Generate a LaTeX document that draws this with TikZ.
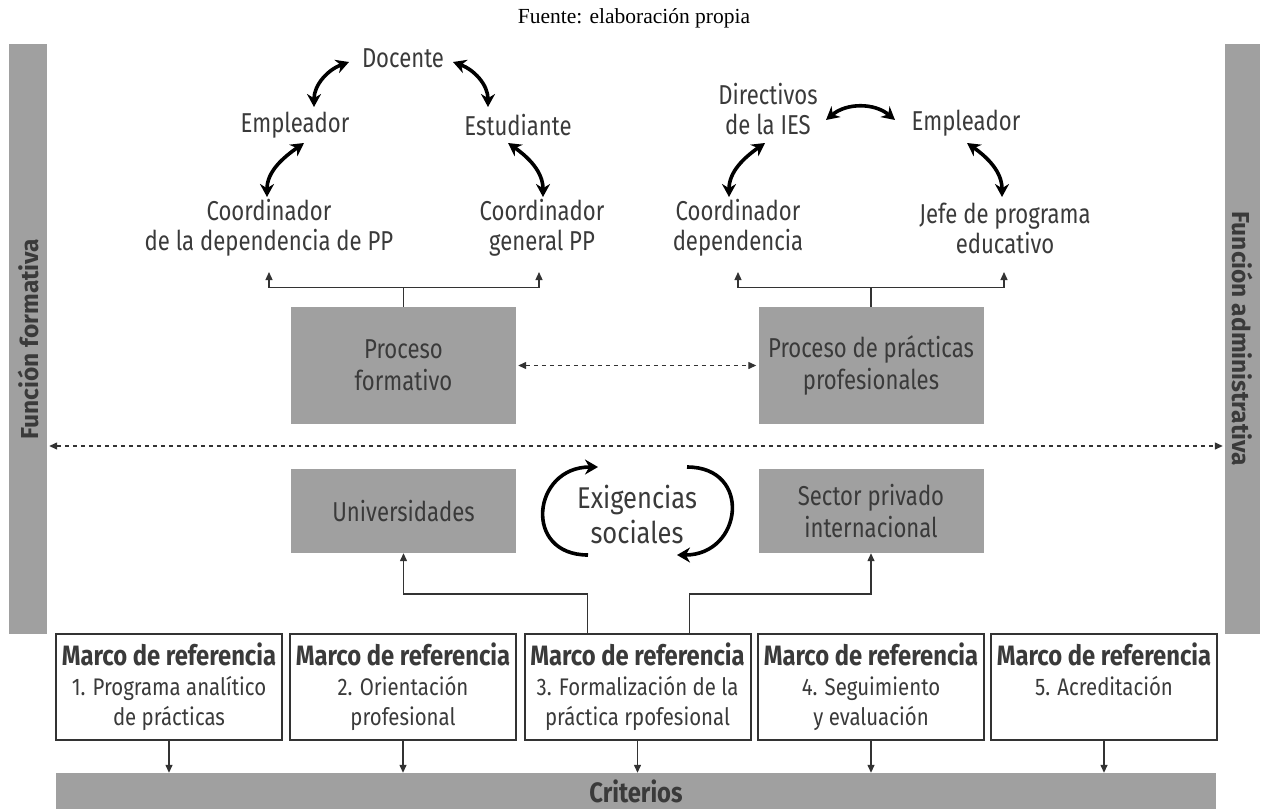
\documentclass[tikz,border=0pt]{standalone}
\usepackage{fontspec}
\usepackage{xcolor}
\usepackage{tikz}
\usetikzlibrary{calc,arrows.meta}
\setmainfont{Fira Sans}
\newfontfamily\condFont{Fira Sans}[FakeStretch=0.85]
\newfontfamily\narrowFont{Fira Sans}[FakeStretch=0.81]
\newfontfamily\serifFont{Liberation Serif}
\definecolor{boxGray}{HTML}{A0A0A0}
\definecolor{ink}{HTML}{3A3A3A}
\definecolor{wire}{HTML}{333333}
\newcommand{\refTitle}{{\bfseries\fontsize{28}{30}\selectfont Marco de referencia}}
\tikzset{
  roleLabel/.style={text=ink, align=center, inner sep=0pt, font=\narrowFont\fontsize{27.3}{30}\selectfont},
  grayBox/.style={fill=boxGray, minimum width=225, minimum height=117, text=ink, align=center, font=\narrowFont\fontsize{27.3}{32}\selectfont},
  refBox/.style={draw=wire, line width=2pt, fill=white, minimum width=226, minimum height=106, inner sep=0pt, text=ink, align=center, font=\condFont\fontsize{24}{30}\selectfont},
  sideBar/.style={fill=boxGray, minimum width=590, minimum height=38, inner sep=0pt, text=ink, font=\bfseries\fontsize{24.5}{28}\selectfont},
  critBar/.style={fill=boxGray, minimum width=1160, minimum height=36, inner sep=0pt, text=ink, font=\condFont\bfseries\fontsize{28}{30}\selectfont},
  conn/.style={draw=wire, line width=1.3pt},
  connArr/.style={conn, -{Triangle[length=8pt,width=7pt]}},
  dashLink/.style={draw=wire, line width=1.3pt, dash pattern=on 4pt off 4pt, >={Triangle[length=8pt,width=7pt]}, <->, shorten <=2pt, shorten >=2pt},
  twoWay/.style={draw=black, line width=3.6pt, >={Stealth[length=13pt,width=14pt]}, <->},
  loopArrow/.style={draw=black, line width=3.6pt, -{Stealth[length=13pt,width=15pt]}}
}
\begin{document}
\begin{tikzpicture}[x=1pt, y=1pt]
  \useasboundingbox (0,0) rectangle (1265,-809);

  \node[font=\serifFont\fontsize{21.5}{24}\selectfont] (src) at (634,-18) {Fuente: elaboración propia};

  \node[sideBar, rotate=90] (lbar) at (28,-339) {Función formativa};
  \node[sideBar, rotate=-90, minimum height=35] (rbar) at (1242.5,-339) {Función administrativa};

  \node[roleLabel] (doc) at (403,-58) {Docente};
  \node[roleLabel] (emp1) at (295,-125) {Empleador};
  \node[roleLabel] (est) at (518,-125) {Estudiante};
  \node[roleLabel] (coord1) at (269,-228) {Coordinador\\de la dependencia de PP};
  \node[roleLabel] (coord2) at (542,-228) {Coordinador\\general PP};

  \node[roleLabel] (dir) at (768,-109) {Directivos\\de la IES};
  \node[roleLabel] (emp2) at (966,-123) {Empleador};
  \node[roleLabel] (cdep) at (738,-228) {Coordinador\\dependencia};
  \node[roleLabel] (jefe) at (1005,-228) {Jefe de programa\\educativo};

  \draw[twoWay] ($(doc.center)+(-54,-4)$) to[out=200,in=90] ($(emp1.center)+(19,18)$);
  \draw[twoWay] ($(doc.center)+(50,-4)$) to[out=-20,in=90] ($(est.center)+(-30,18)$);
  \draw[twoWay] ($(emp1.center)+(9,-18)$) to[out=215,in=90] ($(coord1.center)+(-2,31)$);
  \draw[twoWay] ($(est.center)+(-10,-18)$) to[out=-35,in=90] ($(coord2.center)+(1,31)$);
  \draw[twoWay] ($(dir.center)+(58,-11)$) to[bend left=40] ($(emp2.center)+(-71,3)$);
  \draw[twoWay] ($(dir.center)+(-3,-34)$) to[out=215,in=90] ($(cdep.center)+(-9,31)$);
  \draw[twoWay] ($(emp2.center)+(1,-20)$) to[out=-35,in=90] ($(jefe.center)+(-3,31)$);

  \node[grayBox] (pf) at (403.5,-365.5) {Proceso\\formativo};
  \node[grayBox] (pp) at (871,-365.5) {Proceso de prácticas\\profesionales};

  \draw[conn] (pf.north) -- ++(0,19) coordinate (bkL);
  \draw[connArr] (bkL) -| ($(coord1.center)+(0,-44)$);
  \draw[connArr] (bkL) -| ($(coord2.center)+(-3,-44)$);
  \draw[conn] (pp.north) -- ++(0,19) coordinate (bkR);
  \draw[connArr] (bkR) -| ($(cdep.center)+(0,-44)$);
  \draw[connArr] (bkR) -| ($(jefe.center)+(-1,-44)$);

  \draw[dashLink] (pf.east) -- (pp.west);
  \coordinate (midLine) at (637,-446);
  \draw[dashLink] (lbar.south |- midLine) -- (rbar.south |- midLine);

  \node[grayBox, minimum height=84] (univ) at (403.5,-511) {Universidades};
  \node[grayBox, minimum height=84] (sector) at (871,-511) {Sector privado\\internacional};

  \node[text=ink, align=center, font=\condFont\fontsize{30}{35}\selectfont] (exig) at (637,-514) {Exigencias\\sociales};
  \draw[loopArrow] ($(exig.center)+(-49,-41)$) to[out=180,in=180,looseness=1.9] ($(exig.center)+(-39,47)$);
  \draw[loopArrow] ($(exig.center)+(50,47)$) to[out=0,in=0,looseness=1.9] ($(exig.center)+(40,-41)$);

  \node[refBox] (m1) at (169,-687) {\refTitle\\1. Programa analítico\\de prácticas};
  \node[refBox] (m2) at (403,-687) {\refTitle\\2. Orientación\\profesional};
  \node[refBox] (m3) at (637.5,-687) {\refTitle\\3. Formalización de la\\práctica rpofesional};
  \node[refBox] (m4) at (871,-687) {\refTitle\\4. Seguimiento\\y evaluación};
  \node[refBox] (m5) at (1104,-687) {\refTitle\\5. Acreditación\\\vphantom{dp}};

  \draw[connArr] ($(m3.north)+(-50,0)$) -- ++(0,39) -| (univ.south);
  \draw[connArr] ($(m3.north)+(52,0)$) -- ++(0,39) -| (sector.south);

  \node[critBar] (crit) at (636,-791) {Criterios};
  \draw[connArr] (m1.south) -- (m1.south |- crit.north);
  \draw[connArr] (m2.south) -- (m2.south |- crit.north);
  \draw[connArr] (m3.south) -- (m3.south |- crit.north);
  \draw[connArr] (m4.south) -- (m4.south |- crit.north);
  \draw[connArr] (m5.south) -- (m5.south |- crit.north);
\end{tikzpicture}
\end{document}
